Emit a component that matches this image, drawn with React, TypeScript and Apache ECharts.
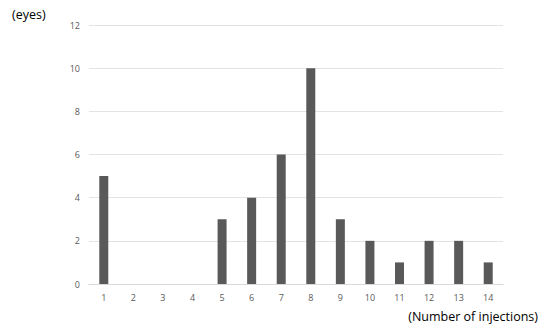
import React, { useEffect, useRef } from "react";
import * as echarts from "echarts";

const categories = ["1", "2", "3", "4", "5", "6", "7", "8", "9", "10", "11", "12", "13", "14"];
const eyes = [5, 0, 0, 0, 3, 4, 6, 10, 3, 2, 1, 2, 2, 1];
const yTicks = { min: 0, max: 12, interval: 2 };

export default function App() {
  const ref = useRef<HTMLDivElement>(null);
  useEffect(() => {
    if (!ref.current) return;
    const chart = echarts.init(ref.current, null, { renderer: "svg" });
    chart.setOption({
      animation: false,
      backgroundColor: "#ffffff",
      grid: { left: 89, right: 47, top: 25, bottom: 51, containLabel: false },
      xAxis: {
        type: "category",
        data: categories,
        axisLine: { show: true, lineStyle: { color: "#d9d9d9", width: 1 } },
        axisTick: { show: false },
        axisLabel: { color: "#595959", fontSize: 9, fontFamily: "Open Sans", margin: 9 },
      },
      yAxis: {
        type: "value",
        min: yTicks.min,
        max: yTicks.max,
        interval: yTicks.interval,
        axisLine: { show: false },
        axisTick: { show: false },
        axisLabel: { color: "#595959", fontSize: 9, fontFamily: "Open Sans", margin: 9 },
        splitLine: { lineStyle: { color: "#e3e3e3", width: 1 } },
      },
      series: [
        {
          type: "bar",
          data: eyes,
          barWidth: 9,
          itemStyle: { color: "#595959" },
        },
      ],
      graphic: [
        {
          type: "text",
          left: 12,
          top: 8,
          style: { text: "(eyes)", fontSize: 12.5, fontFamily: "Open Sans", fill: "#000000" },
        },
        {
          type: "text",
          right: 12,
          top: 310,
          style: { text: "(Number of injections)", fontSize: 12.5, fontFamily: "Open Sans", fill: "#000000" },
        },
      ],
    });
    return () => chart.dispose();
  }, []);
  return <div ref={ref} style={{ width: 550, height: 335, position: "absolute", left: 0, top: 0 }} />;
}
